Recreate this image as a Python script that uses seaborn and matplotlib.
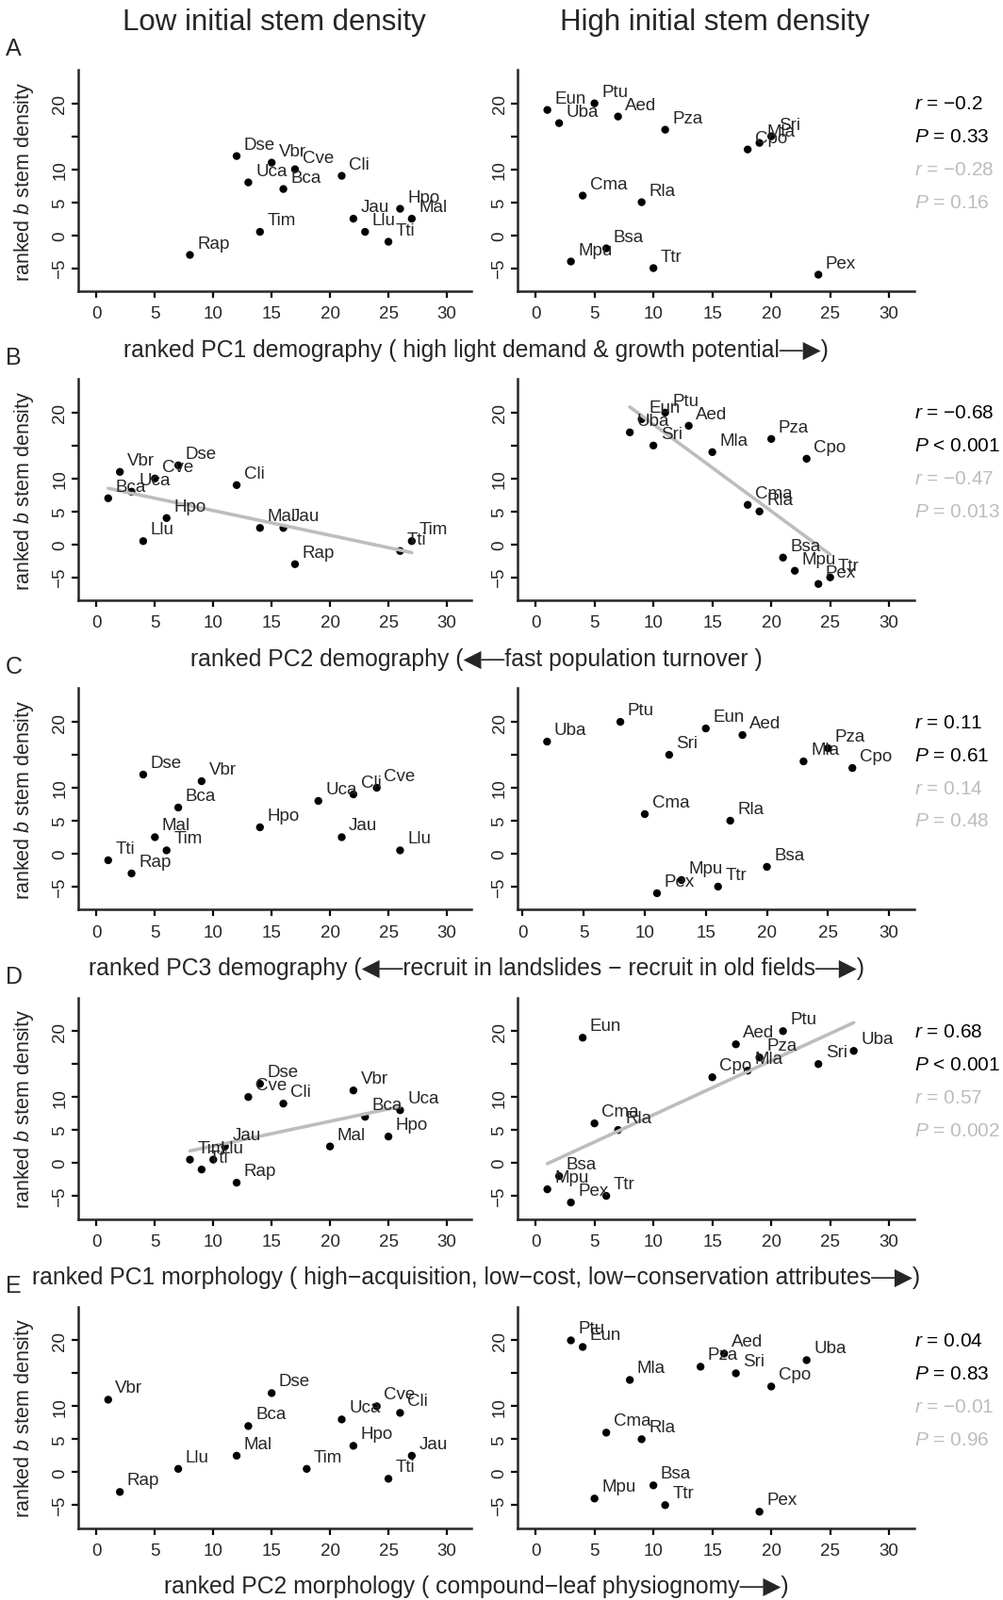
import matplotlib
matplotlib.use('Agg')
import matplotlib.pyplot as plt
import seaborn as sns

sns.set_style('ticks')
plt.rcParams['font.family'] = ['Liberation Sans', 'DejaVu Sans']
plt.rcParams['mathtext.fontset'] = 'custom'
plt.rcParams['mathtext.rm'] = 'Liberation Sans'
plt.rcParams['mathtext.it'] = 'Liberation Sans:italic'
plt.rcParams['axes.unicode_minus'] = True

# === Data: low initial stem density ===
low_species = ['Dse', 'Vbr', 'Cve', 'Uca', 'Bca', 'Cli', 'Jau', 'Hpo', 'Mal', 'Llu', 'Tti', 'Tim', 'Rap']
low_b = [12, 11, 10, 8, 7, 9, 2.5, 4, 2.5, 0.5, -1, 0.5, -3]
low_pc1_demo = [12, 15, 17, 13, 16, 21, 22, 26, 27, 23, 25, 14, 8]
low_pc2_demo = [7, 2, 5, 3, 1, 12, 16, 6, 14, 4, 26, 27, 17]
low_pc3_demo = [4, 9, 24, 19, 7, 22, 21, 14, 5, 26, 1, 6, 3]
low_pc1_morph = [14, 22, 13, 26, 23, 16, 11, 25, 20, 10, 9, 8, 12]
low_pc2_morph = [15, 1, 24, 21, 13, 26, 27, 22, 12, 7, 25, 18, 2]

# === Data: high initial stem density ===
high_species = ['Eun', 'Ptu', 'Uba', 'Aed', 'Pza', 'Sri', 'Mla', 'Cpo', 'Cma', 'Rla', 'Bsa', 'Mpu', 'Ttr', 'Pex']
high_b = [19, 20, 17, 18, 16, 15, 14, 13, 6, 5, -2, -4, -5, -6]
high_pc1_demo = [1, 5, 2, 7, 11, 20, 19, 18, 4, 9, 6, 3, 10, 24]
high_pc2_demo = [9, 11, 8, 13, 20, 10, 15, 23, 18, 19, 21, 22, 25, 24]
high_pc3_demo = [15, 8, 2, 18, 25, 12, 23, 27, 10, 17, 20, 13, 16, 11]
high_pc1_morph = [4, 21, 27, 17, 19, 24, 18, 15, 5, 7, 2, 1, 6, 3]
high_pc2_morph = [4, 3, 23, 16, 14, 17, 8, 20, 6, 9, 10, 5, 11, 19]

# === Statistics text ===
r_black = ['\u22120.2', '\u22120.68', '0.11', '0.68', '0.04']
p_black = ['= 0.33', '< 0.001', '= 0.61', '< 0.001', '= 0.83']
r_grey = ['\u22120.28', '\u22120.47', '0.14', '0.57', '\u22120.01']
p_grey = ['= 0.16', '= 0.013', '= 0.48', '= 0.002', '= 0.96']
has_fit = [False, True, False, True, False]

row_letters = ['A', 'B', 'C', 'D', 'E']
x_titles = [
    'ranked PC1 demography ( high light demand & growth potential\u2014\u25B6)',
    'ranked PC2 demography (\u25C0\u2014fast population turnover )',
    'ranked PC3 demography (\u25C0\u2014recruit in landslides \u2212 recruit in old fields\u2014\u25B6)',
    'ranked PC1 morphology ( high\u2212acquisition, low\u2212cost, low\u2212conservation attributes\u2014\u25B6)',
    'ranked PC2 morphology ( compound\u2212leaf physiognomy\u2014\u25B6)',
]

low_x = [low_pc1_demo, low_pc2_demo, low_pc3_demo, low_pc1_morph, low_pc2_morph]
high_x = [high_pc1_demo, high_pc2_demo, high_pc3_demo, high_pc1_morph, high_pc2_morph]

# === Layout (pixels) ===
W, H = 1064, 1699
fig = plt.figure(figsize=(W / 100, H / 100), dpi=100)
row_step = 328.2
grey = '#bdbdbd'


def px_axes(x0, top, w, h):
    return fig.add_axes([x0 / W, 1 - (top + h) / H, w / W, h / H])


def style_axes(ax, xlim):
    ax.set_xlim(*xlim)
    ax.set_ylim(-8.5, 25.1)
    ax.set_xticks([0, 5, 10, 15, 20, 25, 30])
    ax.set_xticklabels(['0', '5', '10', '15', '20', '25', '30'], fontsize=13.5)
    ax.set_yticks([-5, 0, 5, 10, 15, 20])
    ax.set_yticklabels(['\u22125', '0', '5', '10', '', '20'], fontsize=13.5,
                       rotation=90, va='center')
    for s in ['top', 'right']:
        ax.spines[s].set_visible(False)
    for s in ['left', 'bottom']:
        ax.spines[s].set_linewidth(1.8)
    ax.tick_params(axis='both', direction='out', length=5, width=1.6, color='black')
    ax.tick_params(axis='x', pad=6)
    ax.tick_params(axis='y', pad=2.5)
    ax.set_xlabel('')
    ax.set_ylabel('')


def draw_panel(ax, xs, ys, names, fit):
    sns.scatterplot(x=xs, y=ys, ax=ax, color='black', s=36, edgecolor='none',
                    legend=False, zorder=2)
    if fit:
        sns.regplot(x=xs, y=ys, ax=ax, scatter=False, ci=None, color=grey,
                    line_kws={'lw': 2.6, 'zorder': 3})
    for n, xv, yv in zip(names, xs, ys):
        ax.annotate(n, (xv, yv), xytext=(5.5, 9), textcoords='offset points',
                    ha='left', va='center', fontsize=13.5, zorder=4)


for i in range(5):
    top = 75 + row_step * i

    ax_l = px_axes(82.7, top, 417.3, 235)
    draw_panel(ax_l, low_x[i], low_b, low_species, has_fit[i])
    style_axes(ax_l, (-1.59, 32.1))

    ax_r = px_axes(549, top, 421.3, 235)
    draw_panel(ax_r, high_x[i], high_b, high_species, has_fit[i])
    style_axes(ax_r, (-0.42, 32.1) if i == 2 else (-1.53, 32.17))

    # stats text to the right of the high density panel
    tr = ax_r.get_yaxis_transform()
    ax_r.text(1.0, 20, '$r$ = ' + r_black[i], transform=tr, ha='left', va='center',
              fontsize=15, color='black', clip_on=False)
    ax_r.text(1.0, 15, '$P$ ' + p_black[i], transform=tr, ha='left', va='center',
              fontsize=15, color='black', clip_on=False)
    ax_r.text(1.0, 10, '$r$ = ' + r_grey[i], transform=tr, ha='left', va='center',
              fontsize=15, color=grey, clip_on=False)
    ax_r.text(1.0, 5, '$P$ ' + p_grey[i], transform=tr, ha='left', va='center',
              fontsize=15, color=grey, clip_on=False)

    # y label, row letter, x title
    fig.text(26 / W, 1 - (top + 117.5) / H, 'ranked $b$ stem density', rotation=90,
             ha='center', va='center', fontsize=15.5)
    fig.text(6 / W, 1 - (52 + row_step * i) / H, row_letters[i], ha='left',
             va='center', fontsize=18)
    fig.text(505 / W, 1 - (371.6 + row_step * i) / H, x_titles[i], ha='center',
             va='center', fontsize=17.8)

# === Column titles ===
fig.text(291 / W, 1 - 24 / H, 'Low initial stem density', ha='center', va='center',
         fontsize=22.5)
fig.text(758 / W, 1 - 24 / H, 'High initial stem density', ha='center', va='center',
         fontsize=22.5)

fig.savefig('out.png', dpi=100)
